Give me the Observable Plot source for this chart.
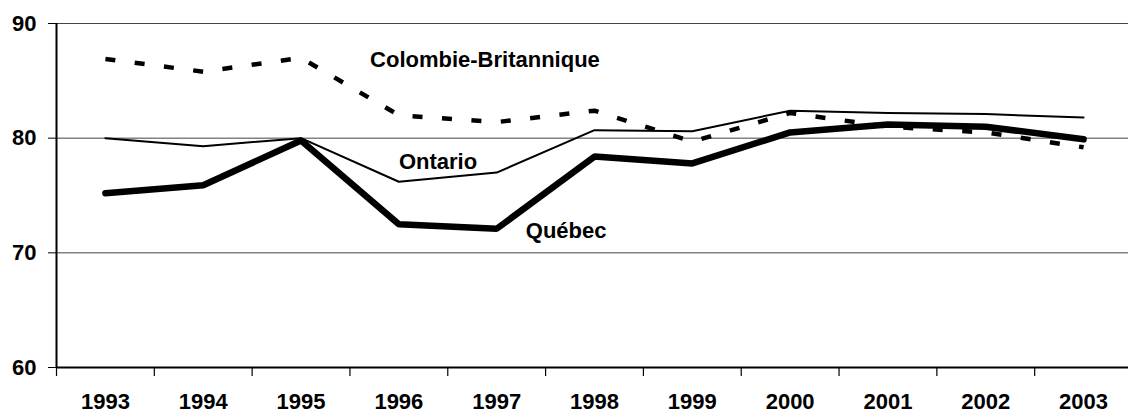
<!DOCTYPE html>
<html>
<head>
<meta charset="utf-8">
<script src="https://cdn.jsdelivr.net/npm/d3@7"></script>
<script src="https://cdn.jsdelivr.net/npm/@observablehq/plot@0.6"></script>
<style>
  html, body { margin: 0; padding: 0; background: #fff; }
  #chart svg { display: block; }
</style>
</head>
<body>
<div id="chart"></div>
<script>
// ---- Data ----
const years = [1993, 1994, 1995, 1996, 1997, 1998, 1999, 2000, 2001, 2002, 2003];
const quebec = [75.2, 75.9, 79.8, 72.5, 72.1, 78.4, 77.8, 80.5, 81.2, 81.0, 79.9];
const ontario = [80.0, 79.3, 80.0, 76.2, 77.0, 80.7, 80.6, 82.4, 82.2, 82.1, 81.8];
const colombie = [86.9, 85.8, 87.0, 82.0, 81.4, 82.4, 79.7, 82.2, 81.0, 80.5, 79.2];
const yTicks = [60, 70, 80, 90];
const gridValues = [70, 80, 90];
const seriesNames = ["Colombie-Britannique", "Ontario", "Québec"];
// label anchors in data units (year, value)
const labelX = [1996.88, 1996.4, 1997.71];
const labelY = [86.8, 77.9, 71.9];

// ---- Build tables ----
const toRows = (vals) => years.map((y, i) => ({year: y, value: vals[i]}));
const qRows = toRows(quebec);
const oRows = toRows(ontario);
const cRows = toRows(colombie);
const labelRows = seriesNames.map((t, i) => ({text: t, x: labelX[i], y: labelY[i]}));
const boundaries = years.map(y => y - 0.5).concat([years[years.length - 1] + 0.5]);

const font = "'Liberation Sans', Arial, sans-serif";

const chart = Plot.plot({
  width: 1128,
  height: 413,
  marginLeft: 56,
  marginRight: 0,
  marginTop: 23,
  marginBottom: 46,
  style: {fontFamily: font, fontWeight: "bold", fontSize: "22px", color: "#000", background: "#fff"},
  x: {type: "linear", domain: [1992.5, 2003.5], range: [56, 1132]},
  y: {domain: [60, 90]},
  marks: [
    Plot.gridY(gridValues, {stroke: "#444", strokeOpacity: 1, strokeWidth: 1}),
    Plot.ruleY([60], {stroke: "#000", strokeWidth: 2}),
    Plot.ruleX([1992.5], {stroke: "#000", strokeWidth: 2}),
    Plot.axisY({ticks: yTicks, tickSize: 8, tickPadding: 12, tickFormat: d => String(d), label: null, fontSize: 22, fontWeight: "bold", stroke: "#000"}),
    Plot.axisX({ticks: boundaries, tickSize: 9, tickFormat: () => "", label: null, strokeWidth: 1.2}),
    Plot.axisX({ticks: years, tickSize: 0, tickPadding: 26, tickFormat: d => String(d), label: null, fontSize: 22, fontWeight: "bold"}),
    Plot.line(cRows, {x: "year", y: "value", stroke: "#000", strokeWidth: 4.5, strokeDasharray: "10,19.5", strokeLinecap: "butt"}),
    Plot.line(oRows, {x: "year", y: "value", stroke: "#000", strokeWidth: 2}),
    Plot.line(qRows, {x: "year", y: "value", stroke: "#000", strokeWidth: 6.5, strokeLinecap: "round", strokeLinejoin: "miter"}),
    Plot.text(labelRows, {x: "x", y: "y", text: "text", fontSize: 22, fontWeight: "bold", fill: "#000"})
  ]
});
document.getElementById("chart").appendChild(chart);
</script>
</body>
</html>
